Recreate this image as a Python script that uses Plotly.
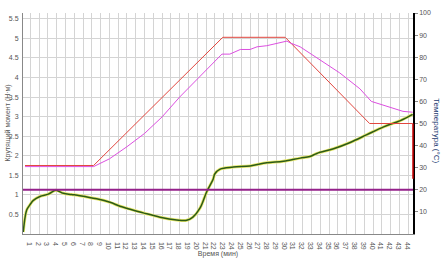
import plotly.graph_objects as go

# ---- data ----
torque_min = [0.2, 0.4, 0.6, 1.0, 1.35, 2.1, 3.05, 3.9, 4.75, 5.7, 6.65, 8.55, 10.07, 11.2, 11.97, 13.86,
              15.76, 17.65, 18.8, 19.5, 20.3, 21.07, 21.8, 22.0, 22.6, 24.1, 26.0, 27.9, 29.8, 31.7, 32.8,
              33.6, 35.5, 37.4, 39.3, 41.2, 43.1, 44.5]
torque_nm = [0.05, 0.42, 0.62, 0.76, 0.86, 0.96, 1.02, 1.12, 1.04, 1.01, 0.98, 0.90, 0.81, 0.71, 0.66, 0.54,
             0.43, 0.36, 0.35, 0.43, 0.66, 1.08, 1.40, 1.54, 1.66, 1.71, 1.74, 1.82, 1.86, 1.94, 1.98,
             2.06, 2.18, 2.34, 2.54, 2.74, 2.90, 3.06]

set_min = [0.4, 8.2, 22.9, 30.0, 39.6, 44.5]
set_temp = [31, 31, 89, 89, 50, 50]

act_min = [0.4, 8.2, 10, 12, 14, 16, 18, 20, 22, 22.8, 23.7, 24.9, 26.0, 26.8, 27.9, 29.4, 30.2, 30.6,
           31.7, 36.2, 38.5, 39.8, 41.5, 43.4, 44.5]
act_temp = [30.5, 30.5, 34, 39.5, 45.5, 53, 62, 70, 78, 81.4, 81.4, 83.5, 83.5, 84.7, 85.2, 86.4, 87.3, 86.4,
            84.7, 72.9, 65.7, 60.0, 57.9, 55.5, 55.1]

limit_min = [0.17, 44.54]
limit_temp = [20, 20]

x_ticks = list(range(1, 45))
left_ticks = [0.5, 1, 1.5, 2, 2.5, 3, 3.5, 4, 4.5, 5, 5.5]
right_ticks = [10, 20, 30, 40, 50, 60, 70, 80, 90, 100]

FONT = "Liberation Sans"
TICKC = "#555555"

fig = go.Figure()

fig.add_trace(go.Scatter(x=limit_min, y=limit_temp, yaxis="y2", mode="lines",
                         line=dict(color="#94208a", width=2), showlegend=False))
fig.add_trace(go.Scatter(x=set_min, y=set_temp, yaxis="y2", mode="lines",
                         line=dict(color="#e2473f", width=1), showlegend=False))
fig.add_trace(go.Scatter(x=act_min, y=act_temp, yaxis="y2", mode="lines",
                         line=dict(color="#dc4fe0", width=1), showlegend=False))
fig.add_trace(go.Scatter(x=torque_min, y=torque_nm, mode="lines",
                         line=dict(color="#e8e86a", width=3, shape="spline"), showlegend=False))
fig.add_trace(go.Scatter(x=torque_min, y=torque_nm, mode="lines",
                         line=dict(color="#2c5a18", width=1.5, shape="spline"), showlegend=False))

fig.update_layout(
    width=444, height=266,
    margin=dict(l=23, r=31, t=9, b=22),
    paper_bgcolor="white", plot_bgcolor="white",
    font=dict(family=FONT, size=7, color=TICKC),
    hovermode=False,
    xaxis=dict(range=[0.17, 44.54], tickvals=x_ticks, ticktext=[str(v) for v in x_ticks],
               showgrid=True, gridcolor="#d4d4d4", gridwidth=1, zeroline=False,
               showline=True, linecolor="#888888", linewidth=1,
               tickfont=dict(size=7, color=TICKC), ticks="", ticklabelstandoff=2,
               title=dict(text="Время (мин)", font=dict(size=7, color=TICKC), standoff=2)),
    yaxis=dict(range=[0, 5.65], tickvals=left_ticks, ticktext=[str(v) for v in left_ticks],
               showgrid=True, gridcolor="#d4d4d4", gridwidth=1, zeroline=False,
               showline=True, linecolor="#888888", linewidth=1,
               tickfont=dict(size=7, color=TICKC), ticks="", ticklabelstandoff=2),
    yaxis2=dict(range=[0, 100], overlaying="y", side="right", tickvals=right_ticks,
                showgrid=False, zeroline=False, showline=True, linecolor="#000000", linewidth=1.5,
                ticks="outside", ticklen=3, tickcolor="#888888",
                tickfont=dict(size=7, color=TICKC)),
)

fig.add_shape(type="line", xref="paper", x0=1, x1=1, yref="y2", y0=25, y1=50,
              line=dict(color="#cc0000", width=1.5))

fig.add_annotation(text="Крутящий момент (Н·м)", xref="paper", yref="paper",
                   x=0, xshift=-16, xanchor="center", y=0.5, yanchor="middle", textangle=-90,
                   showarrow=False, borderpad=0, font=dict(size=7, color=TICKC))
fig.add_annotation(text="Температура (°C)", xref="paper", yref="paper",
                   x=1.0, xshift=24, xanchor="center", y=0.47, yanchor="middle", textangle=90,
                   showarrow=False, borderpad=0, font=dict(size=8, color="#1a3a70"))

fig.write_html("out.html", config={"displayModeBar": False},
               post_script="document.body.style.margin='0';")
